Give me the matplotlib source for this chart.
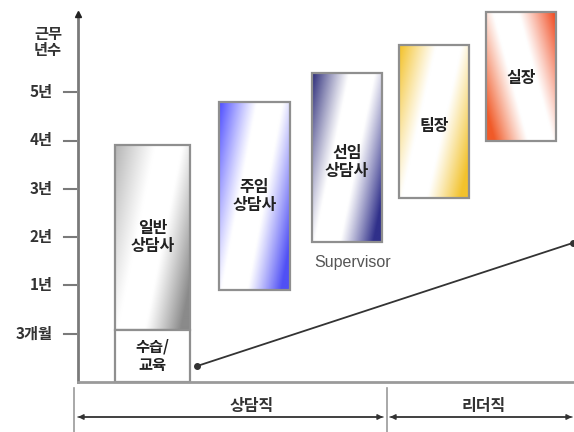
import numpy as np
import matplotlib.pyplot as plt
from matplotlib.colors import to_rgb
from matplotlib.patches import Rectangle

plt.rcParams['font.family'] = ['Noto Sans CJK KR', 'DejaVu Sans']

# y scale: 0 = start, each tick is one career step
tick_pos = [1, 2, 3, 4, 5, 6]
tick_labels = ['3개월', '1년', '2년', '3년', '4년', '5년']

# career stages (bottom / top in step units)
stages = ['일반\n상담사', '주임\n상담사', '선임\n상담사', '팀장', '실장']
stage_bottom = [1.08, 1.90, 2.90, 3.80, 5.00]
stage_top = [4.90, 5.80, 6.40, 6.98, 7.66]
stage_label_y = [3.00, 3.85, 4.55, 5.30, 6.30]

trainee_label = '수습/\n교육'
trainee_top = 1.08

# growth line: start and end level
growth_y = [0.33, 2.88]

groups = ['상담직', '리더직']

# layout (pixels)
bar_left = [115, 219, 312, 399, 486]
bar_width = [75, 71, 70, 70, 70]
palette = [
    ('#b4b4b4', '#8a8a8a'),
    ('#4b4bff', '#5050f5'),
    ('#2a2a78', '#30308a'),
    ('#f3c023', '#f2c22c'),
    ('#f04418', '#f05a28'),
]

px = 48.3  # pixels per step
base = 382


def ypix(p):
    return (base - p) / px


def gradient(ax, x0, w, y0, y1, c1, c2, flip=False):
    n = 150
    u = np.linspace(0, 1, n)[None, :]
    v = np.linspace(1, 0, n)[:, None]
    if flip:
        # colour at top-right and bottom-left
        t = (u + 0.5 * v) / 1.5
        t = 1 - t
    else:
        t = (u + 0.5 * (1 - v)) / 1.5
    w1 = np.clip(1 - t / 0.36, 0, 1) ** 1.1
    w2 = np.clip((t - 0.6) / 0.32, 0, 1) ** 1.1
    a = np.array(to_rgb(c1))
    b = np.array(to_rgb(c2))
    img = np.ones((n, n, 3))
    img = img * (1 - w1[..., None]) + a * w1[..., None]
    img = img * (1 - w2[..., None]) + b * w2[..., None]
    ax.imshow(img, extent=(x0, x0 + w, y0, y1), aspect='auto',
              interpolation='bilinear', zorder=2)
    ax.add_patch(Rectangle((x0, y0), w, y1 - y0, fill=False,
                           ec='#8f8f8f', lw=1.6, zorder=3))


fig = plt.figure(figsize=(5.74, 4.32), dpi=100)
ax = fig.add_axes([0, 0, 1, 1])
ax.set_xlim(0, 574)
ax.set_ylim(ypix(432), ypix(0))
ax.axis('off')

# y axis with arrow
ax.plot([78, 78], [0, 7.55], color='#7a7a7a', lw=2, zorder=4)
ax.plot([78], [7.62], marker='^', color='#222222', ms=5, zorder=5)
ax.text(62, 7.03, '근무\n년수', ha='right', va='center', fontsize=11,
        fontweight='bold', color='#333333', linespacing=1.0)
for p, lab in zip(tick_pos, tick_labels):
    ax.plot([64, 76], [p, p], color='#7a7a7a', lw=1.5)
    ax.text(53, p, lab, ha='right', va='center', fontsize=11,
            fontweight='bold', color='#333333')

# baseline
ax.plot([78, 574], [0, 0], color='#9a9a9a', lw=2, zorder=4)

for i, name in enumerate(stages):
    gradient(ax, bar_left[i], bar_width[i], stage_bottom[i], stage_top[i],
             palette[i][0], palette[i][1], flip=(i == 4))
    ax.text(bar_left[i] + bar_width[i] / 2, stage_label_y[i], name,
            ha='center', va='center', fontsize=11.5, fontweight='bold',
            color='#222222', linespacing=1.15, zorder=6)

# trainee box
ax.add_patch(Rectangle((bar_left[0], 0), bar_width[0], trainee_top,
                       fc='white', ec='#8f8f8f', lw=1.6, zorder=3))
ax.text(bar_left[0] + bar_width[0] / 2, trainee_top / 2, trainee_label,
        ha='center', va='center', fontsize=11, fontweight='bold',
        color='#222222', linespacing=1.2, zorder=6)

ax.text(353, ypix(263), 'Supervisor', ha='center', va='center',
        fontsize=11.5, color='#555555',
        family=['Liberation Sans', 'DejaVu Sans'])

# growth line
ax.plot([197, 573], growth_y, color='#333333', lw=1.3, marker='o',
        ms=4, zorder=5)

# bottom group brackets
yb = ypix(417)
for x in [74, 387]:
    ax.plot([x, x], [ypix(388), ypix(432)], color='#9a9a9a', lw=1.2)
for (x0, x1), xc, lab in zip([(78, 383), (390, 572)], [252, 484], groups):
    ax.annotate('', xy=(x0, yb), xytext=(x1, yb),
                arrowprops=dict(arrowstyle='-|>', color='#333333', lw=1,
                                mutation_scale=8, shrinkA=0, shrinkB=0))
    ax.annotate('', xy=(x1, yb), xytext=(x0, yb),
                arrowprops=dict(arrowstyle='-|>', color='#333333', lw=1,
                                mutation_scale=8, shrinkA=0, shrinkB=0))
    ax.text(xc, ypix(406), lab, ha='center', va='center',
            fontsize=11.5, fontweight='bold', color='#333333')

plt.savefig('out.png', dpi=100)
